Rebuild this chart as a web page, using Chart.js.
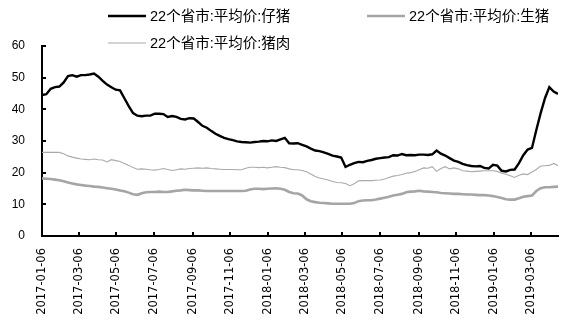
<!DOCTYPE html>
<html>
<head>
<meta charset="utf-8">
<script src="https://cdn.jsdelivr.net/npm/chart.js@4.4.1/dist/chart.umd.min.js"></script>
<style>
  html, body { margin: 0; padding: 0; background: #fff; }
  #wrap { width: 566px; height: 327px; }
</style>
</head>
<body>
<div id="wrap"><canvas id="priceChart" width="566" height="327"></canvas></div>
<script>
// weekly series, first week 2017-01-06
const startDate = '2017-01-06';
const seriesNames = ['22个省市:平均价:仔猪', '22个省市:平均价:生猪', '22个省市:平均价:猪肉'];

const piglet = [
  44.5, 44.8, 46.5, 47.0, 47.2, 48.5, 50.5, 50.8, 50.3, 50.8,
  50.8, 51.0, 51.3, 50.3, 49.0, 47.8, 47.0, 46.2, 46.0, 43.5,
  41.0, 38.8, 38.0, 37.8, 38.0, 38.0, 38.6, 38.6, 38.5, 37.6,
  37.9, 37.6, 37.0, 36.8, 37.2, 37.1, 36.0, 34.8, 34.2, 33.2,
  32.3, 31.6, 31.0, 30.6, 30.3, 29.9, 29.7, 29.6, 29.5, 29.7,
  29.8, 30.0, 29.9, 30.2, 30.0, 30.5, 31.0, 29.3, 29.2, 29.3,
  28.8, 28.3, 27.6, 27.0, 26.8, 26.4, 25.9, 25.4, 25.1, 24.8,
  21.8, 22.5, 23.0, 23.4, 23.3, 23.7, 24.0, 24.4, 24.6, 24.8,
  24.9, 25.5, 25.4, 25.9, 25.5, 25.6, 25.5, 25.7, 25.7, 25.6,
  25.8, 27.0, 26.0, 25.4, 24.6, 23.8, 23.4, 22.8, 22.4, 22.1,
  22.0, 22.1, 21.5, 21.3, 22.5, 22.2, 20.6, 20.4, 20.9, 21.0,
  23.0, 25.5, 27.3, 27.8, 33.5, 38.8, 43.5, 47.0, 45.6, 44.9
];

const hog = [
  18.2, 18.1, 18.0, 17.8, 17.6, 17.3, 16.9, 16.6, 16.3, 16.1,
  15.9, 15.8, 15.6, 15.5, 15.3, 15.1, 14.9, 14.7, 14.4, 14.1,
  13.7, 13.2, 13.0, 13.5, 13.8, 13.9, 13.9, 14.0, 13.9, 13.9,
  14.1, 14.3, 14.4, 14.6, 14.5, 14.4, 14.4, 14.3, 14.2, 14.2,
  14.2, 14.2, 14.2, 14.2, 14.2, 14.2, 14.2, 14.3, 14.7, 14.9,
  14.9, 14.8, 14.9, 15.0, 15.1, 14.9, 14.6, 13.9, 13.5, 13.4,
  12.8, 11.6, 11.0, 10.7, 10.5, 10.4, 10.3, 10.2, 10.2, 10.2,
  10.2, 10.2, 10.4, 11.0, 11.2, 11.3, 11.3, 11.5, 11.8, 12.1,
  12.4, 12.8, 13.0, 13.3, 13.8, 14.0, 14.1, 14.3, 14.1, 14.0,
  13.9, 13.8, 13.6, 13.5, 13.4, 13.3, 13.3, 13.2, 13.1, 13.1,
  13.0, 12.9, 12.9, 12.8, 12.6, 12.3, 12.0, 11.6, 11.5, 11.5,
  11.9, 12.4, 12.6, 12.8, 14.2, 15.1, 15.4, 15.4, 15.5, 15.6
];

const pork = [
  26.4, 26.4, 26.4, 26.4, 26.4, 26.0, 25.3, 24.9, 24.6, 24.3,
  24.2, 24.1, 24.3, 24.1, 24.0, 23.4, 24.1, 23.8, 23.5, 22.9,
  22.3, 21.6, 21.1, 21.2, 21.1, 20.9, 20.8, 21.0, 21.3, 21.0,
  20.7, 20.9, 21.2, 21.1, 21.3, 21.4, 21.5, 21.4, 21.5, 21.3,
  21.2, 21.1, 21.0, 21.0, 21.0, 20.9, 20.9, 21.4, 21.7, 21.7,
  21.6, 21.7, 21.5, 21.7, 21.9, 21.7, 21.6, 21.2, 20.9, 20.9,
  20.7, 20.3, 19.6, 18.8, 18.3, 18.0, 17.7, 17.2, 16.9, 16.8,
  16.6, 15.9, 16.5, 17.4, 17.5, 17.5, 17.5, 17.6, 17.7, 18.0,
  18.5, 18.9, 19.1, 19.4, 19.8, 20.0, 20.4, 20.9, 21.5, 21.4,
  21.9, 20.4, 21.3, 21.9, 21.2, 21.5, 21.2, 20.6, 20.5, 20.3,
  20.4, 20.5, 20.6, 20.6, 20.6, 20.4, 19.8, 19.5, 19.0, 18.5,
  19.2, 19.6, 19.4, 20.2, 21.0, 22.1, 22.2, 22.3, 22.9, 22.2
];

const xTickLabels = [
  '2017-01-06', '2017-03-06', '2017-05-06', '2017-07-06', '2017-09-06', '2017-11-06', '2018-01-06',
  '2018-03-06', '2018-05-06', '2018-07-06', '2018-09-06', '2018-11-06', '2019-01-06', '2019-03-06'
];

// days since start date (x values on a linear axis)
const DAY = 86400000;
function dayOf(s) {
  return Math.round((Date.parse(s + 'T00:00:00Z') - Date.parse(startDate + 'T00:00:00Z')) / DAY);
}
const toPoints = arr => arr.map((v, i) => ({ x: i * 7, y: v }));

// inner tick marks, as in the original
const innerTicks = {
  id: 'innerTicks',
  afterDraw(chart) {
    const ctx = chart.ctx;
    const xs = chart.scales.x, ys = chart.scales.y;
    const area = chart.chartArea;
    ctx.save();
    ctx.strokeStyle = '#000';
    ctx.lineWidth = 2;
    ctx.beginPath();
    ys.ticks.forEach(t => {
      const py = Math.round(ys.getPixelForValue(t.value));
      ctx.moveTo(area.left, py);
      ctx.lineTo(area.left + 4, py);
    });
    xs.ticks.forEach(t => {
      const px = Math.round(xs.getPixelForValue(t.value));
      ctx.moveTo(px, area.bottom);
      ctx.lineTo(px, area.bottom - 4);
    });
    ctx.stroke();
    ctx.restore();
  }
};

// legend laid out like the original (two rows)
const legendBox = {
  id: 'legendBox',
  afterDraw(chart) {
    const ctx = chart.ctx;
    const slots = [[108, 16], [367, 16], [108, 43]];
    ctx.save();
    ctx.font = '14.5px "Liberation Sans", "Noto Sans CJK SC", sans-serif';
    ctx.textBaseline = 'middle';
    ctx.fillStyle = '#000';
    chart.data.datasets.forEach((ds, i) => {
      const [x, y] = slots[i];
      ctx.strokeStyle = ds.borderColor;
      ctx.lineWidth = ds.borderWidth;
      ctx.beginPath();
      ctx.moveTo(x, y);
      ctx.lineTo(x + 38, y);
      ctx.stroke();
      ctx.fillText(ds.label, x + 42, y + 1);
    });
    ctx.restore();
  }
};

new Chart(document.getElementById('priceChart'), {
  type: 'line',
  data: {
    datasets: [
      { label: seriesNames[0], data: toPoints(piglet), borderColor: '#000000', borderWidth: 2.4 },
      { label: seriesNames[1], data: toPoints(hog), borderColor: '#a5a5a5', borderWidth: 2.6 },
      { label: seriesNames[2], data: toPoints(pork), borderColor: '#aaaaaa', borderWidth: 1.1 }
    ]
  },
  options: {
    responsive: false,
    animation: false,
    devicePixelRatio: 1,
    layout: { padding: { top: 46, right: 8, left: 0, bottom: 0 } },
    elements: { point: { radius: 0 }, line: { tension: 0 } },
    plugins: { legend: { display: false }, tooltip: { enabled: false } },
    scales: {
      x: {
        type: 'linear',
        min: 0,
        max: (piglet.length - 1) * 7,
        afterBuildTicks: s => { s.ticks = xTickLabels.map(l => ({ value: dayOf(l) })); },
        afterFit: s => { s.height = 91; },
        grid: { display: true, drawOnChartArea: false, drawTicks: false },
        border: { display: true, color: '#000', width: 2 },
        ticks: {
          autoSkip: false,
          maxRotation: 90,
          minRotation: 90,
          padding: 12,
          color: '#000',
          font: { family: '"DejaVu Sans", sans-serif', size: 11.5 },
          callback: v => xTickLabels.find(l => dayOf(l) === v) || ''
        }
      },
      y: {
        min: 0,
        max: 60,
        afterFit: s => { s.width = 42; },
        grid: { display: true, drawOnChartArea: false, drawTicks: false },
        border: { display: true, color: '#000', width: 2 },
        ticks: {
          stepSize: 10,
          padding: 17,
          color: '#000',
          font: { family: '"Liberation Sans", Arial, sans-serif', size: 12 }
        }
      }
    }
  },
  plugins: [innerTicks, legendBox]
});
</script>
</body>
</html>
